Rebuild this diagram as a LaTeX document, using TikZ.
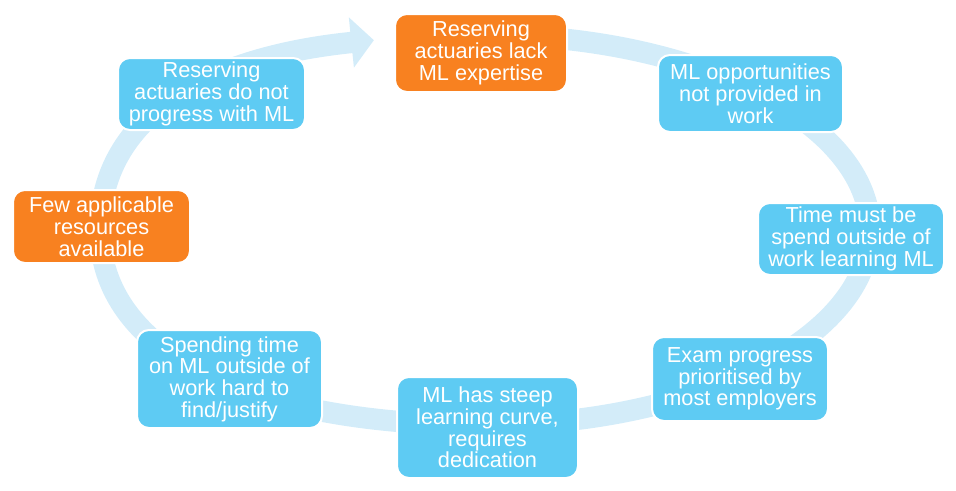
\documentclass[tikz,border=0pt]{standalone}
\usepackage{fontspec}
\setmainfont{Liberation Sans}
\usetikzlibrary{arrows.meta}
\definecolor{cblue}{RGB}{94,203,243}
\definecolor{corange}{RGB}{248,129,32}
\definecolor{cring}{RGB}{211,236,249}
\newcommand\bxfont{\fontsize{16.3}{16.3}\selectfont}
\tikzset{
  box/.style={draw=white, line width=1.5pt, rounded corners=9pt, text=white,
    align=center, inner sep=0pt, font=\bxfont},
  bluebox/.style={box, fill=cblue},
  orangebox/.style={box, fill=corange},
  ring/.style={draw=cring, line width=16pt, -{Triangle[length=17pt, width=37pt]}}
}
\begin{document}
\begin{tikzpicture}[x=0.75pt, y=-0.75pt]
\useasboundingbox (0,0) rectangle (956,490);
% ring
\coordinate (T) at (485,35);
\coordinate (R) at (870,230);
\coordinate (B) at (485,425);
\coordinate (L) at (100,230);
\coordinate (E) at (373.9,40.2);
\draw[ring] (T) .. controls (697.6,35) and (870,122.3) .. (R)
  .. controls (870,337.7) and (697.6,425) .. (B)
  .. controls (246.3,425) and (100,350.9) .. (L)
  .. controls (100,123.3) and (195.3,58.3) .. (E);
% boxes
\node[orangebox, minimum width={172*0.75pt}, minimum height={78*0.75pt}] (n1) at (481,53)
  {Reserving\\actuaries lack\\ML expertise};
\node[bluebox, minimum width={185*0.75pt}, minimum height={77*0.75pt}] (n2) at (750.5,93.5)
  {ML opportunities\\not provided in\\work};
\node[bluebox, minimum width={186*0.75pt}, minimum height={72*0.75pt}] (n3) at (851,239)
  {Time must be\\spend outside of\\work learning ML};
\node[bluebox, minimum width={176*0.75pt}, minimum height={84*0.75pt}] (n4) at (740,379)
  {Exam progress\\prioritised by\\most employers};
\node[bluebox, minimum width={181*0.75pt}, minimum height={101*0.75pt}] (n5) at (487.5,427.5)
  {ML has steep\\learning curve,\\requires\\dedication};
\node[bluebox, minimum width={185*0.75pt}, minimum height={98*0.75pt}] (n6) at (229.5,379)
  {Spending time\\on ML outside of\\work hard to\\find/justify};
\node[orangebox, minimum width={177*0.75pt}, minimum height={73*0.75pt}] (n7) at (101.5,226.5)
  {Few applicable\\resources\\available};
\node[bluebox, minimum width={187*0.75pt}, minimum height={72*0.75pt}] (n8) at (211.5,94)
  {Reserving\\actuaries do not\\progress with ML};
\end{tikzpicture}
\end{document}
